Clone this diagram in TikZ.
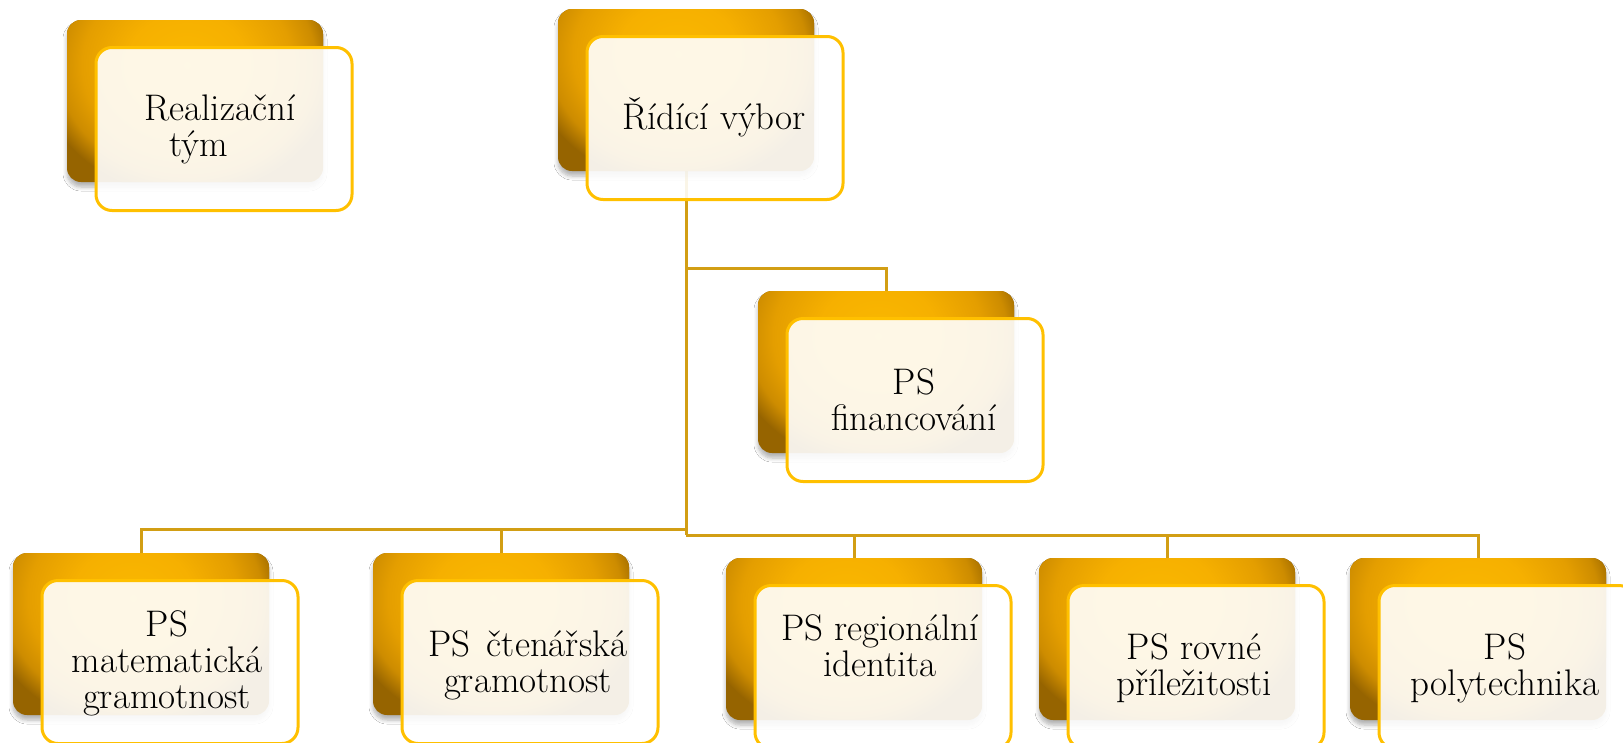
\documentclass[tikz,border=0pt]{standalone}
\usetikzlibrary{backgrounds,shadows.blur}
\definecolor{linegold}{RGB}{210,158,20}
\definecolor{framegold}{RGB}{255,192,0}
\definecolor{gbright}{RGB}{250,184,0}
\definecolor{gmid}{RGB}{246,176,0}
\definecolor{gedge}{RGB}{228,158,0}
\definecolor{gdeep}{RGB}{205,140,0}
\definecolor{gdark}{RGB}{150,100,0}
\pgfdeclareradialshading{goldglow}{\pgfpoint{0bp}{0bp}}{color(0bp)=(gbright); color(10bp)=(gmid); color(17.5bp)=(gedge); color(21.5bp)=(gdeep); color(25bp)=(gdark); color(50bp)=(gdark)}
\begin{document}
\begin{tikzpicture}[x=1pt,y=-1pt,font=\fontsize{37}{36}\selectfont,
	backbox/.style={rounded corners=14pt,minimum width=256pt,minimum height=162pt,inner sep=0pt,fill=gdark,
		path picture={\shade[shading=goldglow] ([shift={(-8,45)}]path picture bounding box.north) ellipse (150pt and 130pt);},
		blur shadow={shadow xshift=0pt,shadow yshift=-5pt,shadow blur radius=4pt,shadow blur steps=6,shadow opacity=30}},
	frontbox/.style={rounded corners=16pt,minimum width=256pt,minimum height=163pt,inner sep=0pt,draw=framegold,line width=3pt,fill=white,fill opacity=0.9},
	boxtext/.style={align=center,inner sep=0pt,text=black},
	conn/.style={draw=linegold,line width=3pt}]
	\useasboundingbox (0,0) rectangle (1623,742);
	\clip (0,0) rectangle (1623,742);
	% zadni (zlate) obdelniky
	\node[backbox] (real) at (195,101) {};
	\node[backbox] (rid) at (686,90) {};
	\node[backbox] (fin) at (886,372) {};
	\node[backbox] (mat) at (141,634) {};
	\node[backbox] (cte) at (501,634) {};
	\node[backbox] (reg) at (854,639) {};
	\node[backbox] (rov) at (1167,639) {};
	\node[backbox] (pol) at (1478,639) {};
	% predni ramecky
	\foreach \n in {real,rid,fin,mat,cte,reg,rov,pol}{\node[frontbox] (\n-f) at ([shift={(29,28)}]\n.center) {};}
	% texty
	\node[boxtext,align=left] (real-t) at ([shift={(-4,0.5)}]real-f.center) {Realizační\\\hspace*{25pt}tým};
	\node[boxtext] (rid-t) at ([shift={(-1,-1)}]rid-f.center) {Řídící výbor};
	\node[boxtext] (fin-t) at ([shift={(-1,0)}]fin-f.center) {PS\\financování};
	\node[boxtext] (mat-t) at ([shift={(-3,1)}]mat-f.center) {PS\\matematická\\gramotnost};
	\node[boxtext] (cte-t) at ([shift={(-2,3)}]cte-f.center) {PS\hspace{16pt}čtenářská\\gramotnost};
	\node[boxtext] (reg-t) at ([shift={(-3,-21)}]reg-f.center) {PS regionální\\identita};
	\node[boxtext] (rov-t) at ([shift={(-2,1.5)}]rov-f.center) {PS rovné\\příležitosti};
	\node[boxtext] (pol-t) at ([shift={(-2,1.5)}]pol-f.center) {PS\\polytechnika};
	% spojnice
	\coordinate (finbus) at (0,268);
	\coordinate (lbus) at (0,529);
	\coordinate (rbus) at (0,535);
	\begin{scope}[on background layer]
		\fill[white] (0,0) rectangle (1623,742);
		\draw[conn] (rid.south) -- (rid.south |- rbus);
		\draw[conn] (rid.south) |- (fin.north |- finbus) -- (fin.north);
		\foreach \n in {mat,cte}{\draw[conn] (rid.south |- lbus) -| (\n.north);}
		\foreach \n in {reg,rov,pol}{\draw[conn] (rid.south |- rbus) -| (\n.north);}
	\end{scope}
\end{tikzpicture}
\end{document}
